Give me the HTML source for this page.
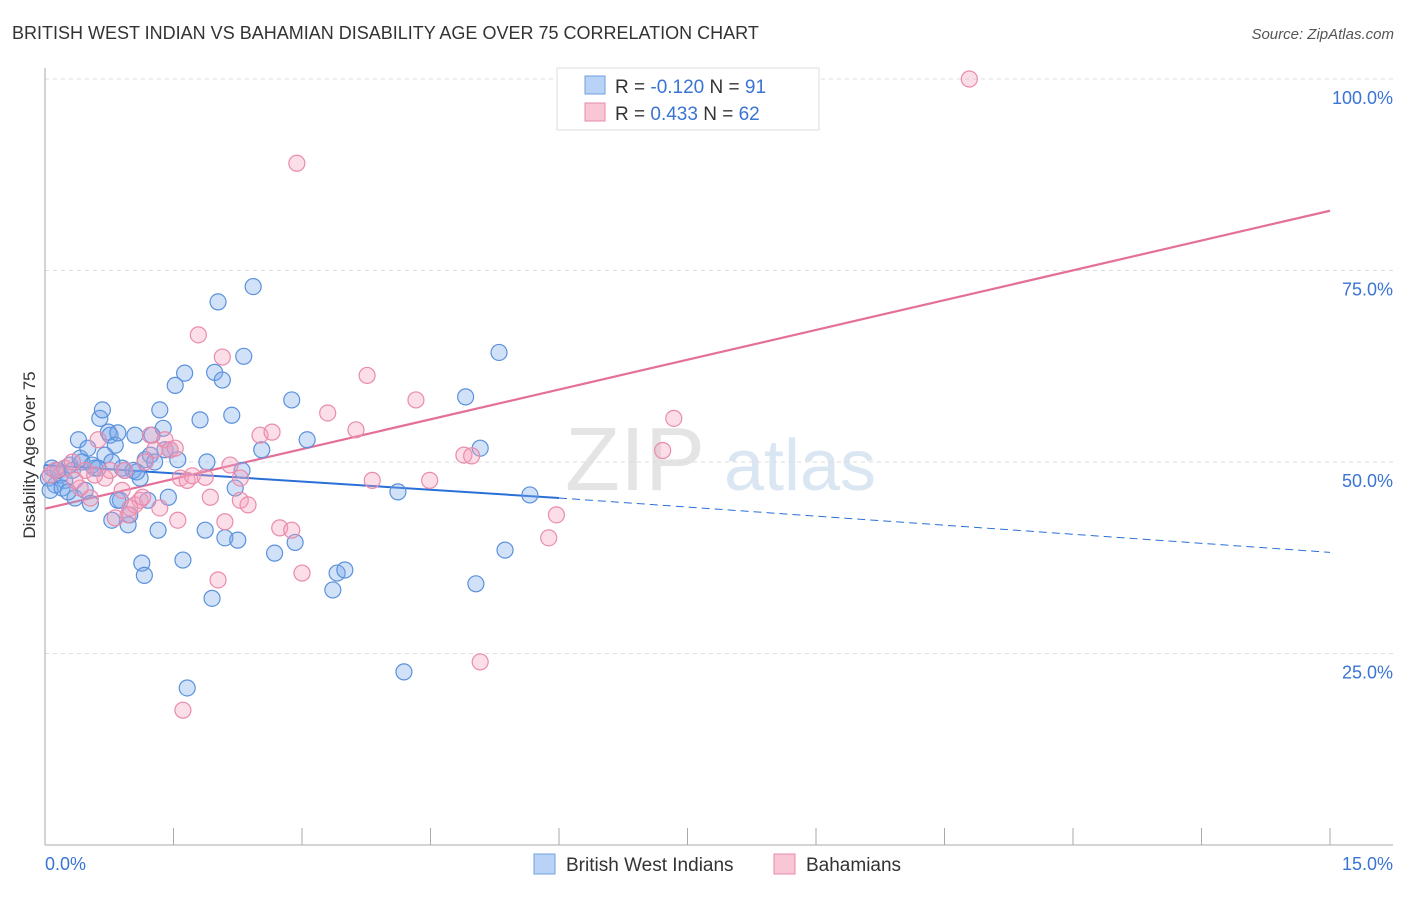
<!DOCTYPE html>
<html><head><meta charset="utf-8">
<style>
body{margin:0;background:#fff;font-family:"Liberation Sans",sans-serif;}
svg text{font-family:"Liberation Sans",sans-serif;}
</style></head>
<body>
<svg id="chart" width="1406" height="892" xmlns="http://www.w3.org/2000/svg">
<text x="12" y="39" font-size="18" fill="#333">BRITISH WEST INDIAN VS BAHAMIAN DISABILITY AGE OVER 75 CORRELATION CHART</text>
<text x="1394" y="39" font-size="15" fill="#555" text-anchor="end" font-style="italic">Source: ZipAtlas.com</text>
<g>
<text x="635" y="490" font-size="90" fill="#e4e4e4" font-family="Liberation Serif" text-anchor="middle">ZIP</text>
<text x="800" y="490" font-size="72" fill="#dbe6f3" text-anchor="middle">atlas</text>
</g>
<g id="grid"></g>
<g id="axes"></g>
<g id="lines"></g>
<g id="pts"></g>
<text x="35" y="455" font-size="17" fill="#333" text-anchor="middle" transform="rotate(-90 35 455)">Disability Age Over 75</text>
<g>
<rect x="557" y="68" width="262" height="62" fill="#fff" stroke="#ddd"/>
<rect x="585" y="76" width="20" height="18" fill="#b8d3f5" stroke="#6f9fe0"/>
<rect x="585" y="103" width="20" height="18" fill="#f9c6d5" stroke="#e88aa8"/>
<text x="615" y="93" font-size="19" fill="#333">R = <tspan fill="#3a74d4">-0.120</tspan>   N =  <tspan fill="#3a74d4">91</tspan></text>
<text x="615" y="120" font-size="19" fill="#333">R =  <tspan fill="#3a74d4">0.433</tspan>   N = <tspan fill="#3a74d4">62</tspan></text>
</g>
<g>
<rect x="534" y="854" width="21" height="20" fill="#b8d3f5" stroke="#6f9fe0"/>
<text x="566" y="871" font-size="19" fill="#333">British West Indians</text>
<rect x="774" y="854" width="21" height="20" fill="#f9c6d5" stroke="#e88aa8"/>
<text x="806" y="871" font-size="19" fill="#333">Bahamians</text>
</g>
</svg>
<script>
const blueX=[0.08,0.12,0.18,0.23,0.29,0.35,0.39,0.41,0.47,0.50,0.53,0.58,0.64,0.67,0.70,0.74,0.76,0.82,0.85,0.88,0.90,0.93,0.97,0.99,1.03,1.05,1.11,1.13,1.16,1.17,1.23,1.25,1.28,1.32,1.34,1.38,1.40,1.44,1.46,1.52,1.55,1.61,1.63,1.66,1.81,1.87,1.89,1.95,1.98,2.02,2.07,2.10,2.18,2.22,2.25,2.30,2.32,2.43,2.53,2.68,2.88,2.92,3.06,3.41,3.50,3.36,4.12,4.19,4.91,5.03,5.08,5.30,5.37,5.66,0.04,0.06,0.15,0.20,0.27,0.32,0.43,0.55,0.62,0.78,1.07,1.20,0.78,0.85];
const blueY=[49.2,47.0,48.3,47.6,49.6,45.3,52.9,50.5,46.3,51.8,44.6,49.2,55.7,56.8,50.9,53.9,53.5,52.2,53.8,45.0,49.2,48.9,41.8,43.1,48.9,53.5,47.9,36.8,35.2,50.3,50.9,53.5,50.0,41.1,56.8,54.4,51.6,45.4,51.6,60.0,50.3,37.2,61.6,20.5,55.5,41.1,50.0,32.2,61.7,70.9,60.7,40.1,56.1,46.6,39.8,48.9,63.8,72.9,51.6,38.1,58.1,39.5,52.9,35.5,35.9,33.3,46.1,22.6,58.5,34.1,51.8,64.3,38.5,45.7,47.9,46.3,48.9,46.6,46.1,48.9,50.0,49.6,49.2,50.0,48.7,45.0,42.4,45.0];
const pinkX=[0.06,0.12,0.23,0.32,0.41,0.47,0.53,0.62,0.70,0.76,0.82,0.90,0.93,0.97,1.05,1.11,1.14,1.23,1.28,1.34,1.40,1.46,1.52,1.58,1.61,1.66,1.72,1.79,1.93,2.02,2.07,2.10,2.16,2.28,2.37,2.51,2.65,2.74,2.88,2.94,3.00,3.30,3.63,3.76,3.82,4.33,4.49,4.89,4.98,5.08,5.88,5.97,7.21,7.34,10.79,0.35,0.58,0.99,1.17,1.55,1.87,2.28];
const pinkY=[48.3,48.9,49.2,50.0,46.6,48.9,45.3,52.9,47.9,48.9,42.7,46.3,48.9,43.1,44.4,45.0,45.4,53.5,51.6,44.0,52.9,51.6,51.8,47.9,17.6,47.6,48.2,66.6,45.4,34.6,63.7,42.2,49.6,45.0,44.4,53.5,53.9,41.4,41.1,89.0,35.5,56.4,54.2,61.3,47.6,58.1,47.6,50.9,50.8,23.9,40.1,43.1,51.5,55.7,100.0,47.6,48.3,44.0,50.0,42.4,48.0,47.9];
const yTicks=[25,50,75,100];
const yTickLabels=["25.0%","50.0%","75.0%","100.0%"];
const xTickCount=10;
const xMax=15;
const blueTrend=[[0,49.6],[6,45.3],[15,38.2]];
const pinkTrend=[[0,43.9],[15,82.8]];

const NS="http://www.w3.org/2000/svg";
const X0=45,X1=1330,Y0=845,Y100=79;
const sx=v=>X0+(X1-X0)*v/xMax;
const sy=v=>Y0-(Y0-Y100)*v/100;
function mk(tag,attrs,parent){const e=document.createElementNS(NS,tag);for(const k in attrs)e.setAttribute(k,attrs[k]);parent.appendChild(e);return e;}
const grid=document.getElementById('grid'),axes=document.getElementById('axes'),lines=document.getElementById('lines'),pts=document.getElementById('pts');
yTicks.forEach((t,i)=>{
  const l=mk('line',{x1:X0,x2:1393,y1:sy(t),y2:sy(t),stroke:'#ddd','stroke-dasharray':'4,4'},grid);
  
  
  const tx=mk('text',{x:1393,y:sy(t)+25,'font-size':18,fill:'#3a74d4','text-anchor':'end'},axes);
  tx.textContent=yTickLabels[i];
  
  
});
mk('line',{x1:X0,x2:X0,y1:68,y2:Y0,stroke:'#aaa'},axes);
mk('line',{x1:X0,x2:1393,y1:Y0,y2:Y0,stroke:'#aaa'},axes);
for(let i=0;i<=xTickCount;i++){
  const x=sx(xMax*i/xTickCount);
  const tk=mk('line',{x1:x,x2:x,y1:828,y2:Y0,stroke:'#aaa'},axes);
  
  
}
const xl0=mk('text',{x:45,y:870,'font-size':18,fill:'#3a74d4'},axes);xl0.textContent='0.0%';


const xl1=mk('text',{x:1393,y:870,'font-size':18,fill:'#3a74d4','text-anchor':'end'},axes);xl1.textContent='15.0%';



blueX.forEach((x,i)=>{const c=mk('circle',{cx:sx(x),cy:sy(blueY[i]),r:8,fill:'rgba(120,170,235,0.35)',stroke:'#5b91dc','stroke-width':1.2},pts);

});
pinkX.forEach((x,i)=>{const c=mk('circle',{cx:sx(x),cy:sy(pinkY[i]),r:8,fill:'rgba(245,160,190,0.35)',stroke:'#e98bab','stroke-width':1.2},pts);

});

const b1=mk('line',{x1:sx(blueTrend[0][0]),y1:sy(blueTrend[0][1]),x2:sx(blueTrend[1][0]),y2:sy(blueTrend[1][1]),stroke:'#2a6fd6','stroke-width':2},lines);


const b2=mk('line',{x1:sx(blueTrend[1][0]),y1:sy(blueTrend[1][1]),x2:sx(blueTrend[2][0]),y2:sy(blueTrend[2][1]),stroke:'#2a6fd6','stroke-width':1,'stroke-dasharray':'8,5'},lines);


const p1=mk('line',{x1:sx(pinkTrend[0][0]),y1:sy(pinkTrend[0][1]),x2:sx(pinkTrend[1][0]),y2:sy(pinkTrend[1][1]),stroke:'#e4709a','stroke-width':2.2},lines);


</script>
</body></html>
